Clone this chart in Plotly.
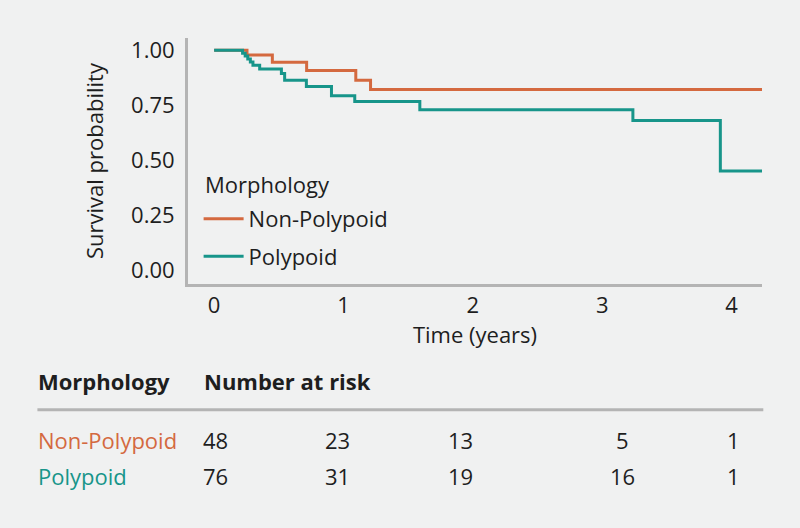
import plotly.graph_objects as go

# ---------------- data ----------------
groups = ["Non-Polypoid", "Polypoid"]
colors = ["#d4693f", "#17958a"]

time_nonpoly = [0, 0.254, 0.45, 0.715, 1.095, 1.209, 4.24]
surv_nonpoly = [1.0, 0.979, 0.946, 0.909, 0.864, 0.822, 0.822]

time_poly = [0, 0.22, 0.24, 0.26, 0.28, 0.30, 0.352, 0.52, 0.545, 0.713,
             0.907, 1.087, 1.590, 3.237, 3.913, 4.24]
surv_poly = [1.0, 0.987, 0.974, 0.961, 0.947, 0.932, 0.915, 0.895, 0.864,
             0.836, 0.794, 0.768, 0.730, 0.682, 0.453, 0.453]

x_ticks = [0, 1, 2, 3, 4]
y_ticks = [0.0, 0.25, 0.5, 0.75, 1.0]
y_ticklabels = ["0.00", "0.25", "0.50", "0.75", "1.00"]

risk_nonpoly = [48, 23, 13, 5, 1]
risk_poly = [76, 31, 19, 16, 1]

# ---------------- layout helpers ----------------
W, H = 800, 528
L, R, T, B = 188.4, 761.7, 38.3, 284.0
FONT = "Open Sans"
FS = 22
TXT = "#1e1e1e"
BG = "#f0f1f1"
AX = "#b4b4b4"


def px_x(px):
    return (px - L) / (R - L)


def px_y(py):
    return (B - py) / (B - T)


fig = go.Figure()

fig.add_trace(go.Scatter(
    x=time_nonpoly, y=surv_nonpoly, mode="lines", line_shape="hv",
    line=dict(color=colors[0], width=3), name=groups[0],
    legendgroup="a", legendrank=1))
fig.add_trace(go.Scatter(
    x=time_poly, y=surv_poly, mode="lines", line_shape="hv",
    line=dict(color=colors[1], width=3), name=groups[1],
    legendgroup="b", legendrank=2))

fig.update_layout(
    width=W, height=H,
    margin=dict(l=L, r=W - R, t=T, b=H - B, pad=0),
    paper_bgcolor=BG, plot_bgcolor=BG,
    font=dict(family=FONT, size=FS, color=TXT),
    showlegend=True,
    legend=dict(
        x=px_x(199), y=px_y(198), xanchor="left", yanchor="top",
        bgcolor="rgba(0,0,0,0)", borderwidth=0,
        tracegroupgap=6, traceorder="grouped", itemwidth=40,
        font=dict(size=FS, color=TXT),
    ),
)

fig.update_xaxes(
    range=[-0.202, 4.235], tickvals=x_ticks, ticktext=[str(v) for v in x_ticks],
    showgrid=False, zeroline=False, showline=True, linecolor=AX, linewidth=3,
    ticks="", ticklabelstandoff=0,
    title=dict(text="Time (years)", standoff=9, font=dict(size=FS)),
)
fig.update_yaxes(
    range=[-0.06, 1.056], tickvals=y_ticks, ticktext=y_ticklabels,
    showgrid=False, zeroline=False, showline=True, linecolor=AX, linewidth=3,
    ticks="", ticklabelstandoff=6,
    title=dict(text="Survival probability", standoff=22, font=dict(size=FS)),
)

# ---------------- legend title + risk table ----------------
ann = []
ann.append(dict(text="Morphology", x=px_x(203), y=px_y(184),
                xanchor="left", yanchor="middle"))
ann.append(dict(text="<b>Morphology</b>", x=px_x(37), y=px_y(381),
                xanchor="left", yanchor="middle"))
ann.append(dict(text="<b>Number at risk</b>", x=px_x(202), y=px_y(381),
                xanchor="left", yanchor="middle"))
ann.append(dict(text=groups[0], x=px_x(37), y=px_y(440), xanchor="left",
                yanchor="middle", font=dict(color=colors[0], size=FS, family=FONT)))
ann.append(dict(text=groups[1], x=px_x(37), y=px_y(476), xanchor="left",
                yanchor="middle", font=dict(color=colors[1], size=FS, family=FONT)))
col_px = [216, 338, 461, 622, 733]
for cx, a, b in zip(col_px, risk_nonpoly, risk_poly):
    ann.append(dict(text=str(a), x=px_x(cx), y=px_y(440), xanchor="center", yanchor="middle"))
    ann.append(dict(text=str(b), x=px_x(cx), y=px_y(476), xanchor="center", yanchor="middle"))
for a in ann:
    a.update(xref="paper", yref="paper", showarrow=False)
    a.setdefault("font", dict(size=FS, color=TXT, family=FONT))
fig.update_layout(annotations=ann)

fig.add_shape(type="line", xref="paper", yref="paper",
              x0=px_x(38), x1=px_x(763), y0=px_y(409.5), y1=px_y(409.5),
              line=dict(color=AX, width=3))

fig.write_html("out.html", config={"displayModeBar": False},
               post_script="document.body.style.margin='0';document.body.style.background='%s';" % BG)
